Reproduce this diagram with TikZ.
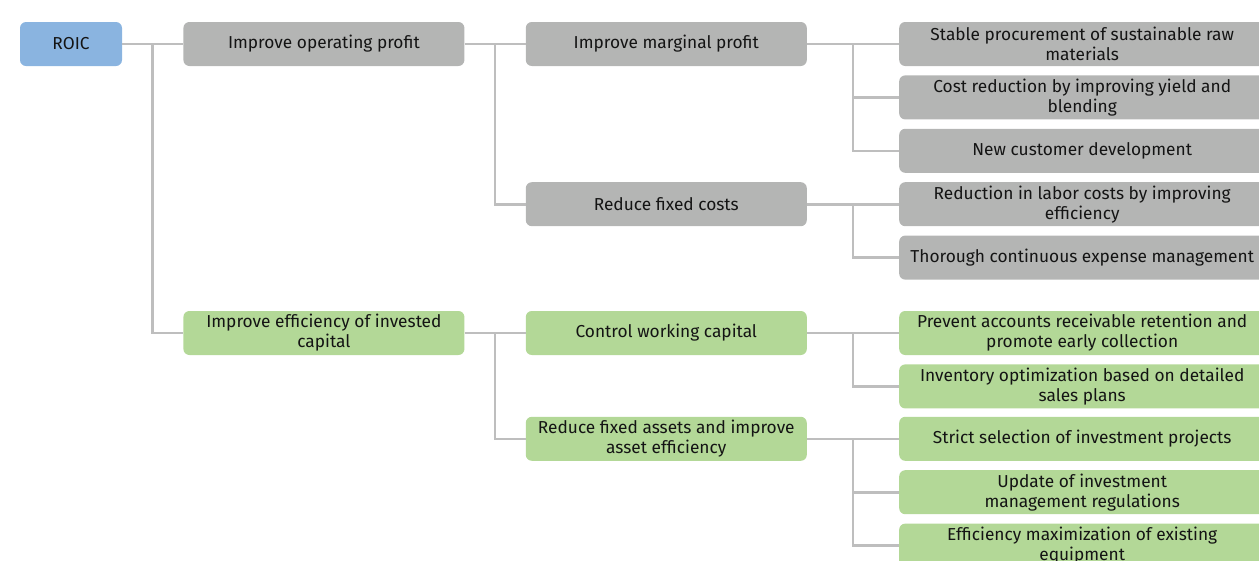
\documentclass[tikz,border=0pt]{standalone}
\usepackage{fontspec}
\setmainfont{Fira Sans}
\usepackage{tikz}
\usetikzlibrary{positioning,calc}

\definecolor{roicblue}{HTML}{8AB4E0}
\definecolor{boxgray}{HTML}{B4B5B4}
\definecolor{boxgreen}{HTML}{B3D897}
\definecolor{linegray}{HTML}{BEBEBE}
\definecolor{textdark}{HTML}{141414}

\begin{document}
\begin{tikzpicture}[
x=1pt, y=-1pt,
box/.style={rectangle, rounded corners=6pt, minimum height=44pt, inner sep=0pt, align=center, text=textdark, font=\fontsize{17.3}{20}\selectfont},
rootnode/.style={box, fill=roicblue, minimum width=102pt},
midnode/.style={box, minimum width=281pt},
leafnode/.style={box, minimum width=366pt},
graynode/.style={fill=boxgray},
greennode/.style={fill=boxgreen},
conn/.style={draw=linegray, line width=2.6pt},
]
\clip (0,0) rectangle (1259,560);

%Nodes
\node[rootnode]             (roic)      at (71,44)                {ROIC};
\node[midnode, graynode]    (opprofit)  [right=61pt of roic]      {Improve operating profit};
\node[midnode, graynode]    (margprofit)[right=61pt of opprofit]  {Improve marginal profit};
\node[leafnode, graynode]   (stable)    [right=92pt of margprofit]{Stable procurement of sustainable raw\\materials};
\node[leafnode, graynode]   (yield)     [below=9pt of stable]     {Cost reduction by improving yield and\\blending};
\node[leafnode, graynode]   (newcust)   [below=9pt of yield]      {New customer development};
\node[leafnode, graynode]   (labor)     [below=9pt of newcust]    {Reduction in labor costs by improving\\efficiency};
\node[leafnode, graynode]   (expense)   [below=9pt of labor]      {Thorough continuous expense management};
\node[midnode, graynode]    (fixcosts)  [left=92pt of labor]      {Reduce fixed costs};

\node[leafnode, greennode]  (receivable)[below=31pt of expense]   {Prevent accounts receivable retention and\\promote early collection};
\node[leafnode, greennode]  (inventory) [below=9pt of receivable] {Inventory optimization based on detailed\\sales plans};
\node[leafnode, greennode]  (projects)  [below=8pt of inventory]  {Strict selection of investment projects};
\node[leafnode, greennode]  (rules)     [below=9pt of projects]   {Update of investment\\management regulations};
\node[leafnode, greennode]  (equipment) [below=9pt of rules]      {Efficiency maximization of existing\\equipment};
\node[midnode, greennode]   (workcap)   [left=92pt of receivable] {Control working capital};
\node[midnode, greennode]   (assets)    [left=92pt of projects]   {Reduce fixed assets and improve\\asset efficiency};
\node[midnode, greennode]   (invcap)    [left=61pt of workcap]    {Improve efficiency of invested\\capital};

%Lines
\draw[conn] (roic) -- (opprofit);
\draw[conn] ($(roic.east)!0.5!(opprofit.west)$) |- (invcap);

\draw[conn] (opprofit) -- (margprofit);
\draw[conn] ($(opprofit.east)!0.5!(margprofit.west)$) |- (fixcosts);

\draw[conn] (margprofit) -- (stable);
\draw[conn] ($(margprofit.east)!0.5!(stable.west)$) |- (yield.west);
\draw[conn] ($(margprofit.east)!0.5!(stable.west)$) |- (newcust.west);

\draw[conn] (fixcosts) -- (labor);
\draw[conn] ($(fixcosts.east)!0.5!(labor.west)$) |- (expense.west);

\draw[conn] (invcap) -- (workcap);
\draw[conn] ($(invcap.east)!0.5!(workcap.west)$) |- (assets);

\draw[conn] (workcap) -- (receivable);
\draw[conn] ($(workcap.east)!0.5!(receivable.west)$) |- (inventory.west);

\draw[conn] (assets) -- (projects);
\draw[conn] ($(assets.east)!0.5!(projects.west)$) |- (rules.west);
\draw[conn] ($(assets.east)!0.5!(projects.west)$) |- (equipment.west);
\end{tikzpicture}
\end{document}
